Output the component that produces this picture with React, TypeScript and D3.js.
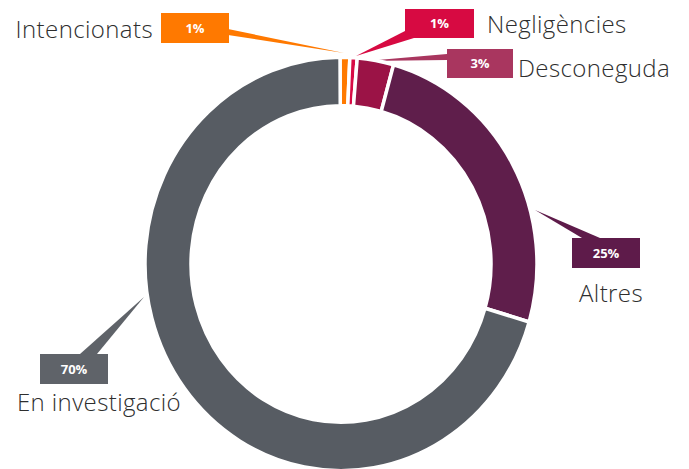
import React from "react";
import * as d3 from "d3";

const categories = ["Intencionats", "Negligències", "Desconeguda", "Altres", "En investigació"];
const values = [0.8, 0.6, 3.0, 25.2, 70.4];
const percentLabels = ["1%", "1%", "3%", "25%", "70%"];
const sliceColors = ["#ff7a00", "#d80b45", "#9b1346", "#5f1e4b", "#575c63"];
const boxColors = ["#ff7900", "#d70a42", "#a9365f", "#5e1b4a", "#5f6369"];

const W = 689;
const H = 469;
const cx = 341;
const cy = 264;
const R = 196;
const r = 150;
const sy = 1.055;

type Lay = {
  box: [number, number, number, number];
  base: [number, number][];
  tip: [number, number];
  text: [number, number];
  anchor: string;
};

const layout: Lay[] = [
  { box: [161, 13, 68, 30], base: [[228, 29], [228, 35]], tip: [344, 53], text: [153, 38], anchor: "end" },
  { box: [405, 9, 69, 29], base: [[405, 31], [414, 38]], tip: [356, 56], text: [487, 33], anchor: "start" },
  { box: [447, 49, 66, 29], base: [[447, 54], [447, 60]], tip: [366, 61], text: [518, 77], anchor: "start" },
  { box: [572, 238, 68, 30], base: [[582, 238], [600, 238]], tip: [535, 210], text: [611, 302], anchor: "middle" },
  { box: [40, 354, 68, 30], base: [[80, 354], [97, 354]], tip: [144, 297], text: [99, 411], anchor: "middle" },
];

export default function App() {
  const pie = d3
    .pie<number>()
    .sort(null)
    .value((d) => d)
    .startAngle(-0.005)
    .endAngle(2 * Math.PI - 0.005);
  const arcs = pie(values);
  const arcGen = d3.arc<d3.PieArcDatum<number>>().innerRadius(r).outerRadius(R);
  const line = d3.line();

  return (
    <svg
      width={W}
      height={H}
      style={{ position: "absolute", left: 0, top: 0, background: "#fff" }}
      fontFamily="'Open Sans', sans-serif"
    >
      {layout.map((l, i) => (
        <path
          key={"w" + i}
          d={line([l.base[0], l.tip, l.base[1]])! + "Z"}
          fill={boxColors[i]}
        />
      ))}
      <g transform={`translate(${cx},${cy}) scale(1,${sy})`}>
        {arcs.map((a, i) => (
          <path
            key={"a" + i}
            d={arcGen(a)!}
            fill={sliceColors[i]}
            stroke="#fff"
            strokeWidth={3.5}
            strokeLinejoin="miter"
          />
        ))}
      </g>
      {layout.map((l, i) => (
        <g key={"b" + i}>
          <rect x={l.box[0]} y={l.box[1]} width={l.box[2]} height={l.box[3]} fill={boxColors[i]} />
          <text
            x={l.box[0] + l.box[2] / 2}
            y={l.box[1] + l.box[3] / 2 + 4.5}
            textAnchor="middle"
            fill="#fff"
            fontSize={13}
            fontWeight={700}
          >
            {percentLabels[i]}
          </text>
          <text
            x={l.text[0]}
            y={l.text[1]}
            textAnchor={l.anchor}
            fill="#2e2e2e"
            fontSize={24}
            fontWeight={300}
            letterSpacing={0.4}
          >
            {categories[i]}
          </text>
        </g>
      ))}
    </svg>
  );
}
